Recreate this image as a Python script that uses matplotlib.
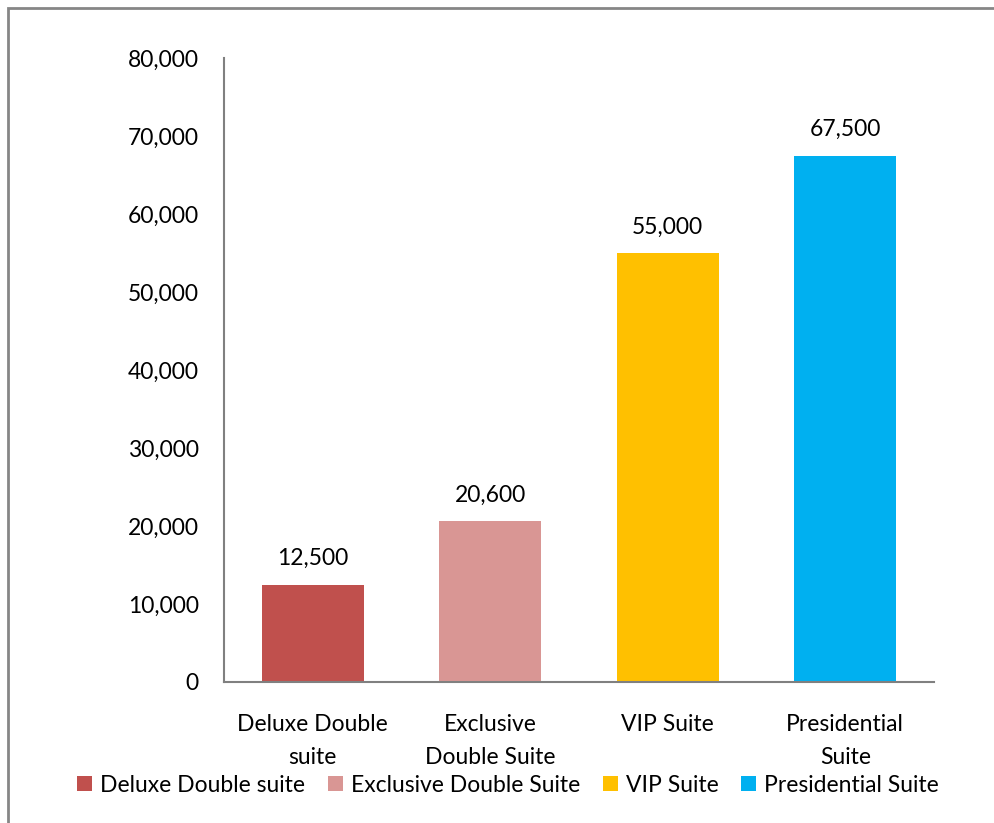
import matplotlib
matplotlib.use("Agg")
import matplotlib.pyplot as plt
from matplotlib.patches import Rectangle, Patch
from matplotlib.ticker import FuncFormatter

categories = ["Deluxe Double suite", "Exclusive Double Suite", "VIP Suite", "Presidential Suite"]
tick_labels = ["Deluxe Double\nsuite", "Exclusive\nDouble Suite", "VIP Suite", "Presidential\nSuite"]
values = [12500, 20600, 55000, 67500]
colors = ["#C0504D", "#D99694", "#FFC000", "#00B0F0"]

plt.rcParams['font.family'] = ['Lato', 'DejaVu Sans']
FS = 16.5

fig = plt.figure(figsize=(9.94, 8.23), dpi=100)
ax = fig.add_axes([224/994, 1-682/823, (934-224)/994, (682-58)/823])

x = range(len(categories))
ax.bar(x, values, width=0.575, color=colors, zorder=2)
for xi, v in zip(x, values):
    ax.annotate(f"{v:,}", (xi, v), xytext=(0, 11), textcoords="offset points",
                ha="center", va="bottom", fontsize=FS)

ax.set_xlim(-0.5, len(categories) - 0.5)
ax.set_ylim(0, 80000)
ax.set_yticks(range(0, 80001, 10000))
ax.yaxis.set_major_formatter(FuncFormatter(lambda v, p: f"{int(v):,}"))
ax.set_xticks(list(x))
ax.set_xticklabels(tick_labels, fontsize=FS, linespacing=1.7)
ax.tick_params(axis='y', length=0, pad=18, labelsize=FS)
ax.tick_params(axis='x', length=0, pad=23)

for s in ["top", "right"]:
    ax.spines[s].set_visible(False)
for s in ["left", "bottom"]:
    ax.spines[s].set_color("#808080")
    ax.spines[s].set_linewidth(1.5)

handles = [Patch(facecolor=c, label=l) for c, l in zip(colors, categories)]
fig.legend(handles=handles, loc="center", bbox_to_anchor=(508/994, 1-785/823), ncol=4,
           frameon=False, fontsize=FS, handlelength=0.65, handleheight=0.65,
           handletextpad=0.35, columnspacing=1.0, borderaxespad=0)

fig.patches.append(Rectangle((8/994, -0.1), 1.2, 1 - 8/823 + 0.1, transform=fig.transFigure,
                             fill=False, edgecolor="#868686", linewidth=2, zorder=0))

fig.savefig("out.png", dpi=100)
